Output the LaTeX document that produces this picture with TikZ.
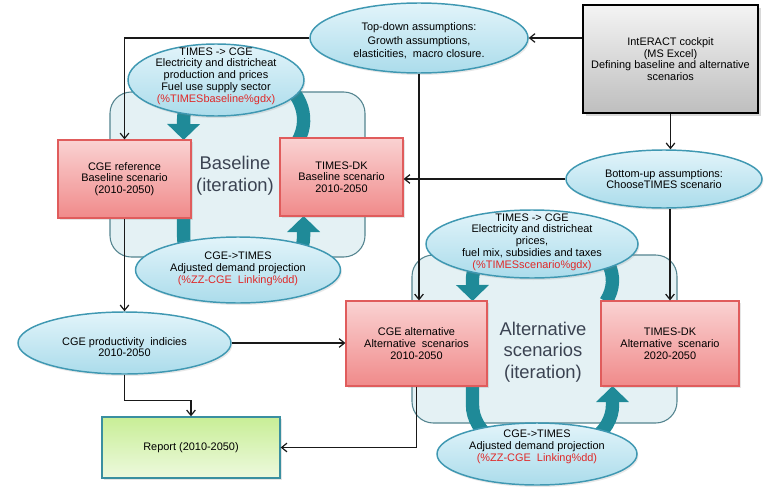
\documentclass[tikz,border=0pt]{standalone}
\usepackage{fontspec}
\setmainfont{Liberation Sans}
\usetikzlibrary{shapes.geometric,arrows.meta,shadows}

\definecolor{ringteal}{HTML}{1F8A98}
\definecolor{regionfill}{HTML}{E4F1F4}
\definecolor{regionline}{HTML}{54848F}
\definecolor{elltop}{HTML}{E2F4FA}
\definecolor{ellbot}{HTML}{ABDCEB}
\definecolor{ellline}{HTML}{3F98B2}
\definecolor{boxtop}{HTML}{FAD2D2}
\definecolor{boxbot}{HTML}{F08A8A}
\definecolor{boxline}{HTML}{E05C5C}
\definecolor{reptop}{HTML}{C8EE96}
\definecolor{repbot}{HTML}{EDF9DE}
\definecolor{repline}{HTML}{3A8FA0}
\definecolor{graytop}{HTML}{F4F4F4}
\definecolor{graybot}{HTML}{BEBEBE}
\definecolor{linkred}{HTML}{E02828}
\definecolor{bigtext}{HTML}{3B4352}

\newcommand\smalltxt{\fontsize{8.2}{8.8}\selectfont}
\newcommand\tdtxt{\fontsize{8.2}{10}\selectfont}
\newcommand\bigtxt{\fontsize{13.8}{16.3}\selectfont}

\begin{document}
\begin{tikzpicture}[x=0.75pt,y=-0.75pt,
  sz/.style 2 args={minimum width=#1*0.75pt, minimum height=#2*0.75pt},
  region/.style={draw=regionline, fill=regionfill, line width=0.8pt, rounded corners=16pt},
  ring/.style={draw=ringteal, line width=10pt, -{Triangle[width=24pt,length=12pt]}},
  ell/.style={ellipse, draw=ellline, line width=1.1pt, top color=elltop, bottom color=ellbot,
    drop shadow={opacity=0.18, shadow xshift=1pt, shadow yshift=-1.5pt}},
  lbl/.style={align=center, inner sep=0pt, font=\smalltxt, text=black},
  pbox/.style={rectangle, draw=boxline, line width=0.9pt, top color=boxtop, bottom color=boxbot,
    align=center, inner sep=0pt, font=\smalltxt,
    drop shadow={opacity=0.2, shadow xshift=1.5pt, shadow yshift=-1.5pt}},
  gbox/.style={rectangle, draw=black, line width=1.3pt, top color=graytop, bottom color=graybot,
    align=center, inner sep=0pt, font=\smalltxt,
    drop shadow={opacity=0.3, shadow xshift=2pt, shadow yshift=-2pt}},
  rbox/.style={rectangle, draw=repline, line width=1pt, top color=reptop, bottom color=repbot,
    align=center, inner sep=0pt, font=\smalltxt,
    drop shadow={opacity=0.2, shadow xshift=1.5pt, shadow yshift=-1.5pt}},
  biglbl/.style={align=center, inner sep=0pt, font=\bigtxt, text=bigtext},
  conn/.style={draw=black!90, line width=0.9pt, -{Straight Barb[length=4pt,width=6.5pt]}}
]
\fill[white] (0,0) rectangle (770,489);
\useasboundingbox (0,0) rectangle (770,489);

% iteration regions
\draw[region] (110,92) rectangle (365,257);
\draw[region] (412,255) rectangle (677,423);

% circular iteration arrows, baseline loop
\draw[ring] (298,141) arc[start angle=-25, end angle=180, x radius=45pt, y radius=37.5pt]
  -- (183.6,140);
\draw[ring] (183.6,218) -- (183.6,236)
  arc[start angle=180, end angle=360, x radius=45pt, y radius=37.5pt] -- (303.6,216);
% circular iteration arrows, alternative loop
\draw[ring] (605.9,301.5) arc[start angle=-25, end angle=180, x radius=52.5pt, y radius=37.5pt]
  -- (472.5,301);
\draw[ring] (472.5,386) -- (472.5,405)
  arc[start angle=180, end angle=360, x radius=52.5pt, y radius=37.5pt] -- (612.5,386);

% ellipses
\node[ell, sz={218}{70}] (td) at (419,38) {};
\node[lbl, font=\tdtxt] (tdt) at (419,41) {Top-down assumptions:\\Growth assumptions,\\elasticities,\ \ macro closure.};

\node[ell, sz={176}{72}] (t2c1) at (216,80) {};
\node[lbl] (t2c1t) at (216,76) {TIMES -> CGE\\Electricity and districheat\\production and prices\\Fuel use supply sector\\\textcolor{linkred}{(\%TIMESbaseline\%gdx)}};

\node[ell, sz={196}{58}] (bu) at (664,179) {};
\node[lbl] (but) at (664,179) {Bottom-up assumptions:\\ChooseTIMES scenario};

\node[ell, sz={205}{66}] (c2t1) at (238,270) {};
\node[lbl] (c2t1t) at (238,269) {CGE->TIMES\\Adjusted demand projection\\\textcolor{linkred}{(\%ZZ-CGE\ \ Linking\%dd)}};

\node[ell, sz={212}{68}] (t2c2) at (532,244) {};
\node[lbl] (t2c2t) at (532,242) {TIMES -> CGE\\Electricity and districheat\\prices,\\fuel mix, subsidies and taxes\\\textcolor{linkred}{(\%TIMESscenario\%gdx)}};

\node[ell, sz={213}{62}] (cp) at (124.5,343) {};
\node[lbl] (cpt) at (124.5,347) {CGE productivity\ \ indicies\\2010-2050};

\node[ell, sz={200}{62}] (c2t2) at (537,454) {};
\node[lbl] (c2t2t) at (537,447) {CGE->TIMES\\Adjusted demand projection\\\textcolor{linkred}{(\%ZZ-CGE\ \ Linking\%dd)}};

% boxes
\node[gbox, sz={175}{108}] (ia) at (670.5,59) {IntERACT cockpit\\(MS Excel)\\Defining baseline and alternative\\scenarios};
\node[pbox, sz={133}{78}] (cr) at (124.5,179) {CGE reference\\Baseline scenario\\(2010-2050)};
\node[pbox, sz={123}{78}] (tdk) at (341.5,177) {TIMES-DK\\Baseline scenario\\2010-2050};
\node[pbox, sz={141}{85}] (ca) at (416.5,343.5) {CGE alternative\\Alternative\ \ scenarios\\2010-2050};
\node[pbox, sz={138}{85}] (tda) at (670,343.5) {TIMES-DK\\Alternative\ \ scenario\\2020-2050};
\node[rbox, sz={178}{61}] (rep) at (191,447.5) {Report (2010-2050)};

% iteration labels
\node[biglbl] (blt) at (235,176) {Baseline\\(iteration)};
\node[biglbl] (alt) at (543,352) {Alternative\\scenarios\\(iteration)};

% connectors
\draw[conn] (td.west) -| (cr.north);
\draw[conn] (ia.west |- td.east) -- (td.east);
\draw[conn] (td.south) -- (td.south |- ca.north);
\draw[conn] (ia.south) -- (ia.south |- bu.north);
\draw[conn] (bu.west) -- (bu.west -| tdk.east);
\draw[conn] (tda.north |- bu.south) -- (tda.north);
\draw[conn] (cr.south) -- (cr.south |- cp.north);
\draw[conn] (cp.east) -- (cp.east -| ca.west);
\draw[conn] (cp.south) -- ++(0,26) -| (rep.north);
\draw[conn] (ca.south) |- (rep.east);
\end{tikzpicture}
\end{document}
